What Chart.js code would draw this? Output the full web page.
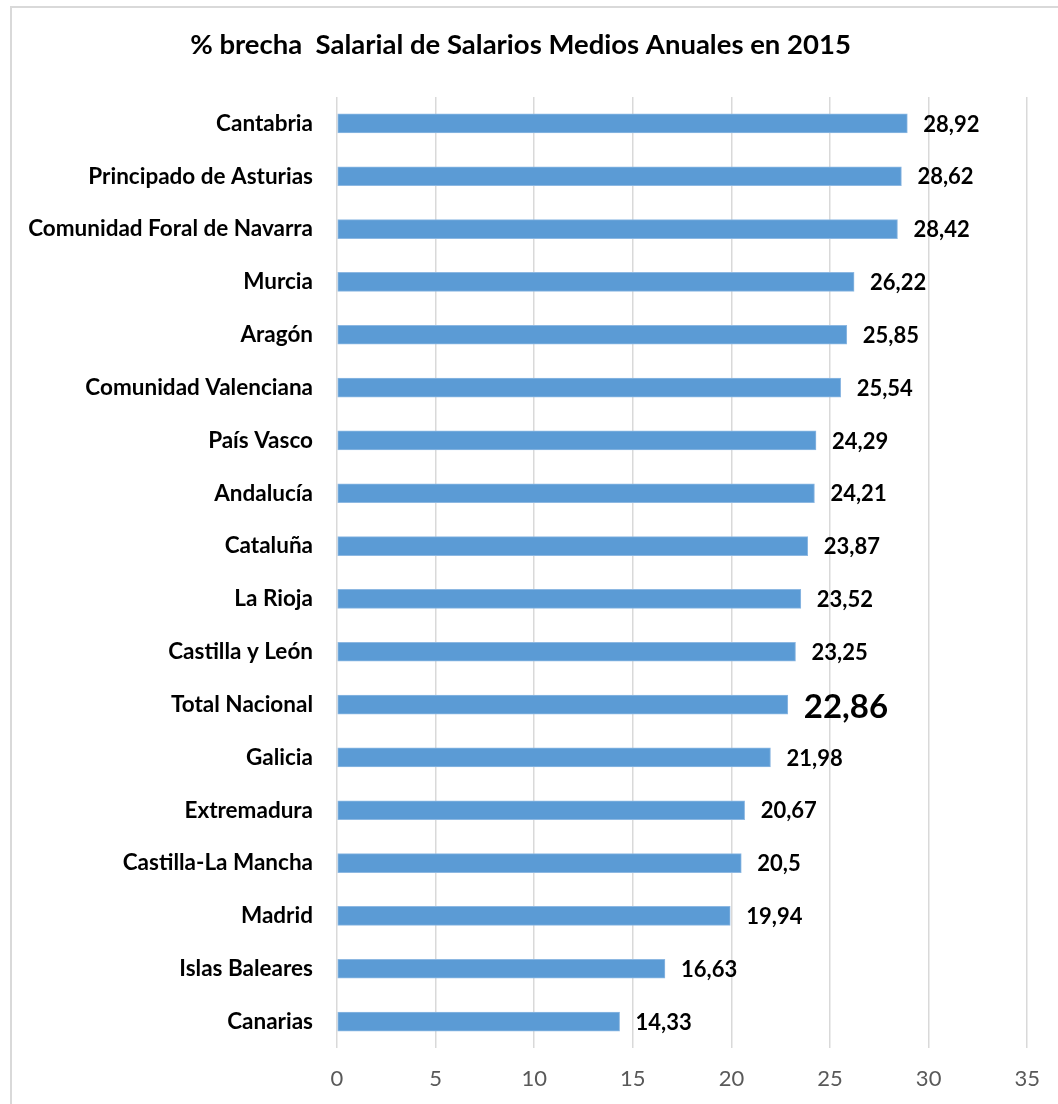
<!DOCTYPE html>
<html>
<head>
<meta charset="utf-8">
<title>% brecha Salarial 2015</title>
<script src="https://cdn.jsdelivr.net/npm/chart.js@4/dist/chart.umd.min.js"></script>
<style>
  html, body { margin: 0; padding: 0; background: #fff; overflow: hidden; }
  #marco {
    position: absolute; left: 10px; top: 6px;
    width: 1060px; height: 1110px;
    border: 2px solid #d9d9d9; background: #fff;
  }
  #wrap { position: absolute; left: 0; top: 0; width: 1046px; height: 1096px; }
</style>
</head>
<body>
<div id="marco">
  <div id="wrap"><canvas id="brecha"></canvas></div>
</div>
<script>
// comunidades y % de brecha salarial
const comunidades = [
  'Cantabria', 'Principado de Asturias', 'Comunidad Foral de Navarra', 'Murcia',
  'Aragón', 'Comunidad Valenciana', 'País Vasco', 'Andalucía', 'Cataluña',
  'La Rioja', 'Castilla y León', 'Total Nacional', 'Galicia', 'Extremadura',
  'Castilla-La Mancha', 'Madrid', 'Islas Baleares', 'Canarias'
]
const brecha = [
  28.92, 28.62, 28.42, 26.22, 25.85, 25.54, 24.29, 24.21, 23.87,
  23.52, 23.25, 22.86, 21.98, 20.67, 20.5, 19.94, 16.63, 14.33
]
const ticksX = [0, 5, 10, 15, 20, 25, 30, 35]

const fuente = 'Lato, "Open Sans", sans-serif'

// etiquetas con el valor al final de cada barra
const etiquetas = {
  id: 'etiquetas',
  afterDatasetsDraw(chart) {
    const ctx = chart.ctx
    const meta = chart.getDatasetMeta(0)
    ctx.save()
    ctx.fillStyle = '#000'
    ctx.textAlign = 'left'
    ctx.textBaseline = 'middle'
    meta.data.forEach((bar, i) => {
      const total = comunidades[i] == 'Total Nacional'
      ctx.font = 'bold ' + (total ? 33 : 22) + 'px ' + fuente
      const txt = String(brecha[i]).replace('.', ',')
      ctx.fillText(txt, bar.x + 16, bar.y + (total ? 3 : 1))
    })
    ctx.restore()
  }
}

new Chart(document.getElementById('brecha'), {
  type: 'bar',
  data: {
    labels: comunidades,
    datasets: [{
      data: brecha,
      backgroundColor: '#5b9bd5',
      borderColor: '#8db8e2',
      borderWidth: 1,
      borderSkipped: false,
      barThickness: 19
    }]
  },
  options: {
    indexAxis: 'y',
    responsive: true,
    maintainAspectRatio: false,
    animation: false,
    layout: { padding: { left: 0, right: 29, top: 0, bottom: 0 } },
    plugins: {
      legend: { display: false },
      tooltip: { enabled: false },
      title: {
        display: true,
        text: '% brecha  Salarial de Salarios Medios Anuales en 2015',
        color: '#000',
        font: { family: fuente, size: 27.5, weight: 'bold' },
        padding: { top: 21, bottom: 35 }
      }
    },
    scales: {
      x: {
        min: 0,
        max: 35,
        afterBuildTicks: (scale) => { scale.ticks = ticksX.map(v => ({ value: v })) },
        afterFit: (scale) => { scale.height = 56 },
        grid: { color: '#d9d9d9', lineWidth: 1.5, drawTicks: false },
        border: { display: false },
        ticks: {
          color: '#595959',
          padding: 18,
          font: { family: fuente, size: 22 }
        }
      },
      y: {
        afterFit: (scale) => { scale.width = 325 },
        grid: { display: false, drawTicks: false },
        border: { display: false },
        ticks: {
          color: '#000',
          padding: 24,
          font: { family: fuente, size: 22.5, weight: 'bold' }
        }
      }
    }
  },
  plugins: [etiquetas]
})
</script>
</body>
</html>
